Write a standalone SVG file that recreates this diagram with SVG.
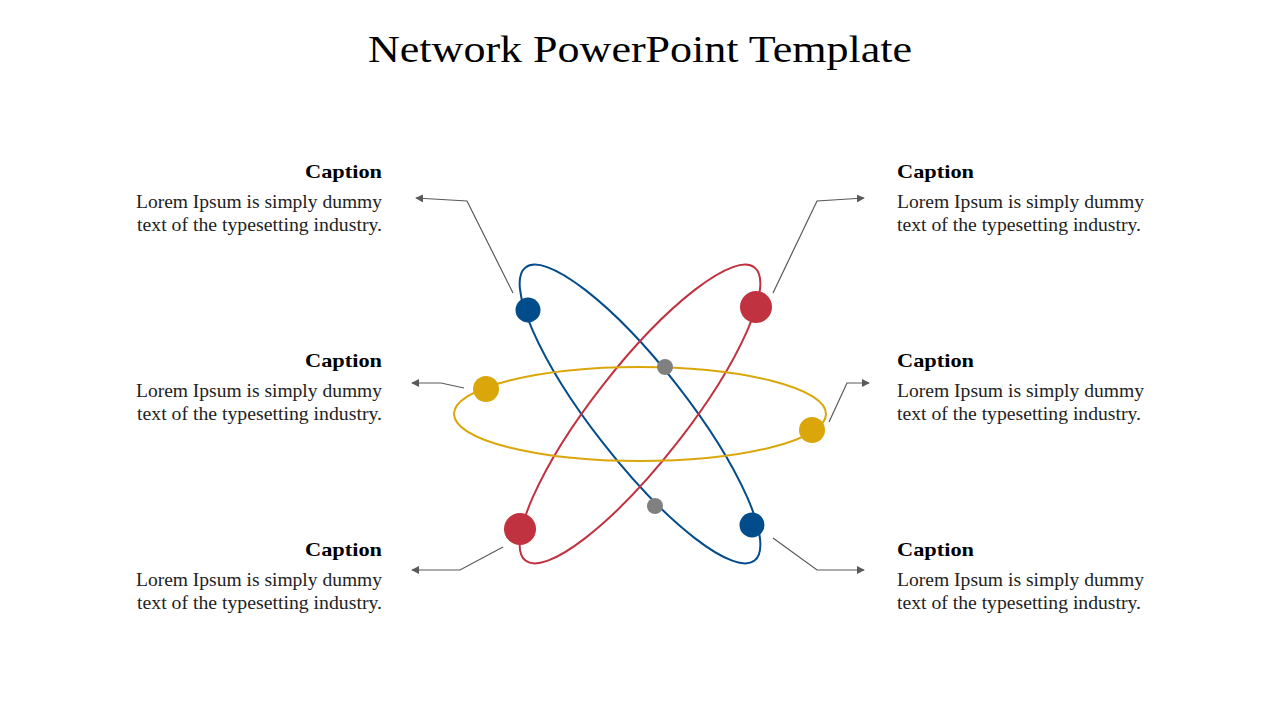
<svg xmlns="http://www.w3.org/2000/svg" width="1280" height="720" viewBox="0 0 1280 720">
<defs>
<style>
.title{font-family:"Liberation Serif","DejaVu Serif",serif;font-size:38px;fill:#000}
.cap{font-family:"Liberation Serif","DejaVu Serif",serif;font-size:19px;font-weight:bold;fill:#000}
.body{font-family:"Liberation Serif","DejaVu Serif",serif;font-size:18.5px;fill:#222}
.orbit{fill:none;stroke-width:2}
.conn{fill:none;stroke:#595959;stroke-width:1.2;marker-end:url(#arr)}
</style>
<marker id="arr" viewBox="0 0 10 10" refX="9" refY="5" markerWidth="8" markerHeight="8" markerUnits="userSpaceOnUse" orient="auto">
<path d="M0,0 L10,5 L0,10 z" fill="#595959"/>
</marker>
</defs>
<rect width="1280" height="720" fill="#fff"/>
<text class="title" x="640" y="62" text-anchor="middle" textLength="544" lengthAdjust="spacingAndGlyphs">Network PowerPoint Template</text>

<g id="orbits">
<ellipse class="orbit" cx="640" cy="414" rx="186" ry="47" stroke="#034C8C" transform="rotate(52 640 414)"/>
<ellipse class="orbit" cx="640" cy="414" rx="186" ry="47" stroke="#C0323F" transform="rotate(-52 640 414)"/>
<ellipse class="orbit" cx="640" cy="414" rx="186" ry="47" stroke="#DAA60A"/>
</g>

<g id="connectors">
<polyline class="conn" points="513,293 467,201 416,198"/>
<polyline class="conn" points="773,293 817,201 864,198"/>
<polyline class="conn" points="464,388 441,383 412,383"/>
<polyline class="conn" points="829,422 847,383 869,383"/>
<polyline class="conn" points="503,547 460,570 412,570"/>
<polyline class="conn" points="773,538 817,570 864,570"/>
</g>

<g id="dots">
<circle cx="528" cy="310" r="12.5" fill="#034C8C"/>
<circle cx="756" cy="307" r="16" fill="#C0323F"/>
<circle cx="486" cy="389" r="13" fill="#DAA60A"/>
<circle cx="812" cy="430" r="13" fill="#DAA60A"/>
<circle cx="520" cy="529" r="16" fill="#C0323F"/>
<circle cx="752" cy="525" r="12.5" fill="#034C8C"/>
<circle cx="665" cy="367" r="8" fill="#808080"/>
<circle cx="655" cy="506" r="8" fill="#808080"/>
</g>

<g id="caption-tl">
<text class="cap" x="382" y="178" text-anchor="end" textLength="77" lengthAdjust="spacingAndGlyphs">Caption</text>
<text class="body" x="382" y="208" text-anchor="end" textLength="246" lengthAdjust="spacingAndGlyphs">Lorem Ipsum is simply dummy</text>
<text class="body" x="382" y="231" text-anchor="end" textLength="245" lengthAdjust="spacingAndGlyphs">text of the typesetting industry.</text>
</g>
<g id="caption-ml">
<text class="cap" x="382" y="367" text-anchor="end" textLength="77" lengthAdjust="spacingAndGlyphs">Caption</text>
<text class="body" x="382" y="397" text-anchor="end" textLength="246" lengthAdjust="spacingAndGlyphs">Lorem Ipsum is simply dummy</text>
<text class="body" x="382" y="420" text-anchor="end" textLength="245" lengthAdjust="spacingAndGlyphs">text of the typesetting industry.</text>
</g>
<g id="caption-bl">
<text class="cap" x="382" y="556" text-anchor="end" textLength="77" lengthAdjust="spacingAndGlyphs">Caption</text>
<text class="body" x="382" y="586" text-anchor="end" textLength="246" lengthAdjust="spacingAndGlyphs">Lorem Ipsum is simply dummy</text>
<text class="body" x="382" y="609" text-anchor="end" textLength="245" lengthAdjust="spacingAndGlyphs">text of the typesetting industry.</text>
</g>
<g id="caption-tr">
<text class="cap" x="897" y="178" textLength="77" lengthAdjust="spacingAndGlyphs">Caption</text>
<text class="body" x="897" y="208" textLength="247" lengthAdjust="spacingAndGlyphs">Lorem Ipsum is simply dummy</text>
<text class="body" x="897" y="231" textLength="244" lengthAdjust="spacingAndGlyphs">text of the typesetting industry.</text>
</g>
<g id="caption-mr">
<text class="cap" x="897" y="367" textLength="77" lengthAdjust="spacingAndGlyphs">Caption</text>
<text class="body" x="897" y="397" textLength="247" lengthAdjust="spacingAndGlyphs">Lorem Ipsum is simply dummy</text>
<text class="body" x="897" y="420" textLength="244" lengthAdjust="spacingAndGlyphs">text of the typesetting industry.</text>
</g>
<g id="caption-br">
<text class="cap" x="897" y="556" textLength="77" lengthAdjust="spacingAndGlyphs">Caption</text>
<text class="body" x="897" y="586" textLength="247" lengthAdjust="spacingAndGlyphs">Lorem Ipsum is simply dummy</text>
<text class="body" x="897" y="609" textLength="244" lengthAdjust="spacingAndGlyphs">text of the typesetting industry.</text>
</g>
</svg>
